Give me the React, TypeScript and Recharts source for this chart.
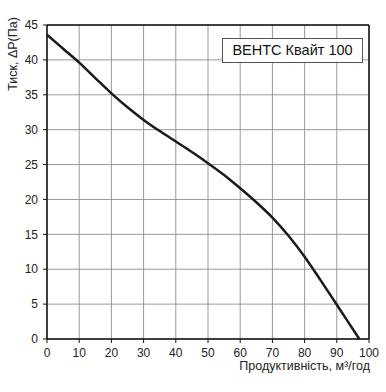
import React from "react";
import {
  LineChart,
  Line,
  XAxis,
  YAxis,
  ReferenceLine,
  CartesianGrid,
  Label,
} from "recharts";

const flow = [0, 5, 10, 15, 20, 25, 30, 35, 40, 45, 50, 55, 60, 65, 70, 75, 80, 85, 90, 97];
const pressure = [43.6, 41.6, 39.6, 37.4, 35.2, 33.2, 31.4, 29.8, 28.3, 26.8, 25.2, 23.5, 21.6, 19.6, 17.4, 14.8, 11.8, 8.4, 4.9, 0];
const xTicks = [0, 10, 20, 30, 40, 50, 60, 70, 80, 90, 100];
const yTicks = [0, 5, 10, 15, 20, 25, 30, 35, 40, 45];
const seriesName = "ВЕНТС Квайт 100";
const xTitle = "Продуктивність, м³/год";
const yTitle = "Тиск, ΔP(Па)";

const data = flow.map((q, i) => ({ q, p: pressure[i] }));

const FONT = "'Liberation Sans', Arial, sans-serif";

const YLabel = (props: any) => {
  const vb = props.viewBox || { x: 0, y: 0 };
  const x = vb.x + 13;
  const y = vb.y + 29;
  return (
    <text
      x={x}
      y={y}
      transform={`rotate(-90 ${x} ${y})`}
      textAnchor="middle"
      dominantBaseline="central"
      fontFamily={FONT}
      fontSize={12.5}
      fill="#222"
    >
      {yTitle}
    </text>
  );
};

const XLabel = (props: any) => {
  const vb = props.viewBox || { x: 0, y: 0, width: 0 };
  return (
    <text
      x={vb.x + vb.width + 1}
      y={vb.y + 31}
      textAnchor="end"
      fontFamily={FONT}
      fontSize={12.5}
      fill="#222"
    >
      {xTitle}
    </text>
  );
};

export default function App() {
  return (
    <div style={{ position: "absolute", left: 0, top: 0, width: 386, height: 392, background: "#fff" }}>
      <LineChart
        width={386}
        height={392}
        data={data}
        margin={{ top: 25, right: 17, bottom: 8, left: 0 }}
      >
        <CartesianGrid stroke="#999" strokeWidth={1} />
        <XAxis
          dataKey="q"
          type="number"
          domain={[0, 100]}
          ticks={xTicks}
          interval={0}
          height={45}
          tickSize={4}
          tickMargin={5}
          axisLine={{ stroke: "#111", strokeWidth: 1.5 }}
          tickLine={{ stroke: "#111" }}
          tick={{ fontFamily: FONT, fontSize: 12, fill: "#222" }}
        >
          <Label content={<XLabel />} />
        </XAxis>
        <YAxis
          type="number"
          domain={[0, 45]}
          ticks={yTicks}
          interval={0}
          width={47}
          tickSize={4}
          tickMargin={5}
          axisLine={{ stroke: "#111", strokeWidth: 1.5 }}
          tickLine={{ stroke: "#111" }}
          tick={{ fontFamily: FONT, fontSize: 12, fill: "#222" }}
        >
          <Label content={<YLabel />} />
        </YAxis>
        <ReferenceLine y={45} stroke="#111" strokeWidth={1.5} />
        <ReferenceLine x={100} stroke="#111" strokeWidth={1.5} />
        <Line
          type="monotone"
          dataKey="p"
          stroke="#1a1a1a"
          strokeWidth={2.5}
          dot={false}
          isAnimationActive={false}
        />
      </LineChart>
      <div
        style={{
          position: "absolute",
          left: 222,
          top: 38,
          width: 141,
          height: 25,
          boxSizing: "border-box",
          border: "1px solid #555",
          background: "#fff",
          fontFamily: FONT,
          fontSize: 14.5,
          lineHeight: "23px",
          textAlign: "center",
          color: "#111",
        }}
      >
        {seriesName}
      </div>
    </div>
  );
}
